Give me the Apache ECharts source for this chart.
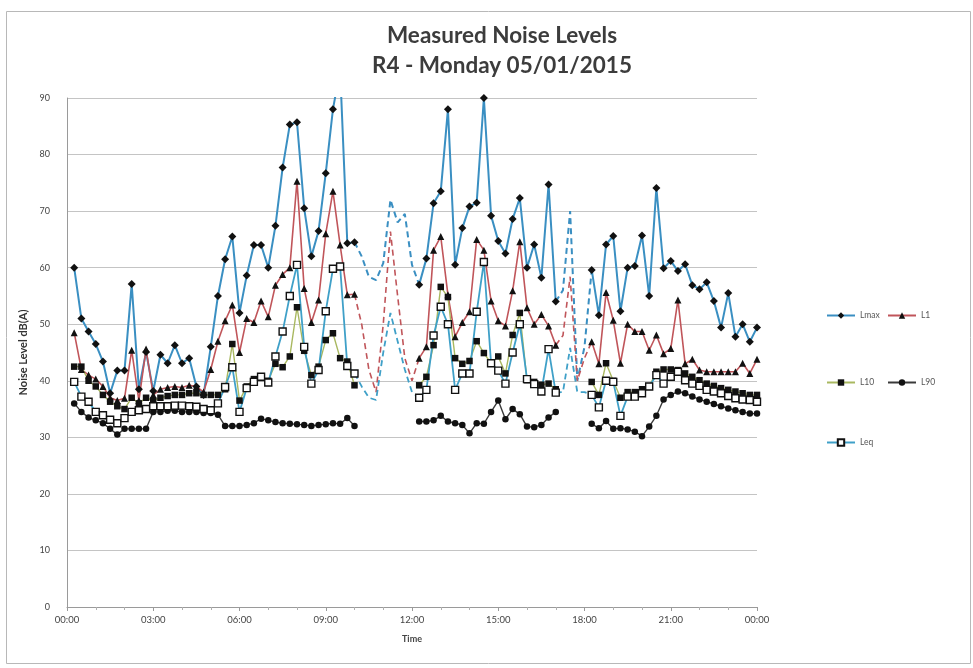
<!DOCTYPE html>
<html><head><meta charset="utf-8">
<script src="https://cdn.jsdelivr.net/npm/echarts@6/dist/echarts.min.js"></script>
<style>html,body{margin:0;padding:0;background:#fff}#c{width:973px;height:668px}</style>
</head><body><div id="c"></div>
<script>
// x tick labels every 3 hours
const tickLabels = ['00:00','03:00','06:00','09:00','12:00','15:00','18:00','21:00','00:00'];
// 15-minute slots, slot 1 = 00:15 ... slot 96 = 24:00
const lmax = [60,51,48.7,46.5,43.4,37.8,41.8,41.8,57.1,38.5,45.1,38.2,44.6,43.1,46.3,43.1,44,39,37.5,46,
  55,61.5,65.5,52,58.6,64,64,60,67.4,77.7,85.3,85.7,70.5,62,66.5,76.7,88,95,64.3,64.5,
  62,58.4,57.8,60.8,72,68,69.5,60.5,57,61.6,71.4,73.5,88,60.5,67,70.8,71.5,90,69.2,64.7,
  62.5,68.6,72.3,60,64.1,58.2,74.7,54,56,70,40,46,59.6,51.6,64.1,65.6,52.3,60,60.3,65.7,
  55,74.1,59.9,61.2,59.4,60.6,56.9,56.2,57.4,54.1,49.4,55.5,47.8,50,46.9,49.4];
const l1 = [48.5,42,41,40.3,39,37,36.5,36.9,45.4,36.5,45.6,37.5,38.5,38.8,39,38.8,39.2,39,38,42,
  47,50.6,53.4,45,51,50.3,54.1,51.3,56.9,58.8,60,75.3,56.3,50.3,54.3,66,73.5,64,55.2,55.3,
  50,42,38,50,66.4,55,44,40,44,46,63.1,65.5,55.2,47.8,50.3,52.2,65,63.1,54.1,50.6,
  49.7,55.9,64.6,52.9,50,51.7,49.7,46.3,48,58.4,40,44,46.9,43,55.6,50.7,43.1,50,48.7,48.7,
  45.4,48.1,44.8,45.7,54.3,43,43.8,41.9,41.6,41.6,41.6,41.6,41.6,43.1,41.3,43.8];
const l10 = [42.5,42.5,40,39,37.5,36.3,35.5,35,37,36,37,36.5,37,37.3,37.5,37.5,37.8,37.8,37.5,37.5,
  37.5,38.5,46.5,36.5,39,40.3,40.5,40,43,42.4,44.3,53,45.3,41,42.5,47.2,48.4,44,43.4,39.2,
  null,null,null,null,null,null,null,null,39.2,40.7,46.3,56.6,54.8,44,43,43.5,47,44.9,43.1,44.3,
  41.3,48.1,52,40.1,39.8,39.3,39.5,38.5,null,null,null,null,39.8,37.5,43.1,40,37,38,38,38.5,
  39,41.6,42,42,41.9,41.3,40.7,40.1,39.5,39.1,38.7,38.4,38.1,37.8,37.5,37.5];
const l90 = [36,34.5,33.5,33,32.5,31.5,30.5,31.5,31.5,31.5,31.5,34.5,34.5,34.7,34.7,34.5,34.5,34.5,34.3,34.3,
  34,32,32,32,32.2,32.5,33.3,33,32.7,32.5,32.4,32.3,32.2,32,32.2,32.3,32.5,32.4,33.4,32,
  null,null,null,null,null,null,null,null,32.8,32.8,33,33.8,32.8,32.5,32.2,30.7,32.5,32.4,34.5,36.5,
  33.2,35,34.1,31.9,31.8,32.2,33.5,34.5,null,null,null,null,32.4,31.6,32.9,31.5,31.6,31.4,31,30.2,
  31.9,33.8,36.7,37.5,38.1,37.8,37.2,36.7,36.3,35.9,35.5,35.1,34.8,34.5,34.2,34.2];
const leq = [39.8,37.2,36.3,34.5,33.9,33.1,32.5,33.4,34.5,34.8,35,35.5,35.5,35.5,35.6,35.6,35.5,35.4,35,34.8,
  36,38.9,42.4,34.5,38.7,39.8,40.7,39.7,44.3,48.7,55,60.5,46,39.5,41.9,52.3,59.8,60.2,42.6,41.3,
  39,37,36.6,45,52,47,42,38,37,38.4,48,53.1,50,38.4,41.3,41.3,52.2,61,43.1,41.8,
  39.5,45,50,40.3,39.4,38.1,45.6,37.9,38,45.8,38,38,37.5,35.3,40,39.8,33.8,37.2,37.2,37.8,
  39,41,39.5,40.7,41.6,40.1,39.5,39.1,38.4,38.1,37.8,37.3,36.9,36.7,36.6,36.3];
// slots drawn as estimated (dashed, no markers)
const estimatedSlots = [[41,48],[69,72]];

const SLOT = 0.25;
const inEst = k => estimatedSlots.some(s => k >= s[0] && k <= s[1]);
const nearEst = k => estimatedSlots.some(s => k >= s[0]-1 && k <= s[1]+1);
const solid = arr => arr.map((v,i) => [(i+1)*SLOT, (inEst(i+1) || v == null) ? '-' : v]);
const dashed = arr => arr.map((v,i) => [(i+1)*SLOT, (nearEst(i+1) && v != null) ? v : '-']);

const defs = [
  {name:'Lmax', data:lmax, color:'#3a8fc2', symbol:'diamond', size:8, fill:'#111', lw:2, est:true},
  {name:'L1', data:l1, color:'#c0555a', symbol:'triangle', size:7, fill:'#111', lw:1.6, est:true},
  {name:'L10', data:l10, color:'#a9b860', symbol:'rect', size:6.5, fill:'#111', lw:1.4, est:false},
  {name:'L90', data:l90, color:'#3a3a3a', symbol:'circle', size:6.5, fill:'#111', lw:1.4, est:false},
  {name:'Leq', data:leq, color:'#3fa0c8', symbol:'rect', size:7, fill:'#fff', lw:1.8, est:true}
];
const series = [];
defs.forEach(d => {
  series.push({
    name:d.name, type:'line', data:solid(d.data), symbol:d.symbol, symbolSize:d.size,
    showSymbol:true, connectNulls:false, clip:true,
    lineStyle:{color:d.color, width:d.lw},
    itemStyle:{color:d.fill, borderColor:'#111', borderWidth:d.fill==='#fff'?1.4:0},
    emphasis:{disabled:true}, animation:false
  });
  if (d.est) series.push({
    name:d.name+' (est.)', type:'line', data:dashed(d.data), showSymbol:false, symbol:'none',
    connectNulls:false, clip:true,
    lineStyle:{color:d.color, width:d.lw, type:[6,4]},
    emphasis:{disabled:true}, animation:false
  });
});
const legendPos = {Lmax:[821,306], L1:[882,306], L10:[821,373], L90:[882,373], Leq:[821,433]};
const legend = defs.map(d => ({
  data:[d.name], left:legendPos[d.name][0], top:legendPos[d.name][1], orient:'horizontal',
  itemWidth:28, itemHeight:8, itemGap:4, selectedMode:false,
  textStyle:{fontSize:8.5, color:'#555', fontFamily:'Lato'}
}));

const chart = echarts.init(document.getElementById('c'), null, {renderer:'canvas'});
chart.setOption({
  animation:false,
  backgroundColor:'#fff',
  title:{
    text:'Measured Noise Levels\nR4 - Monday 05/01/2015',
    left:497, top:16, textAlign:'center',
    textStyle:{fontFamily:'Lato', fontWeight:'bold', fontSize:22.5, lineHeight:30, color:'#3c3c3c'}
  },
  legend: legend,
  grid:{left:67, right:216, top:98, bottom:61, containLabel:false},
  xAxis:{
    type:'value', min:0, max:24, interval:3,
    name:'Time', nameLocation:'middle', nameGap:28,
    nameTextStyle:{fontSize:9, fontWeight:'bold', color:'#444', fontFamily:'Lato'},
    axisLine:{show:true, lineStyle:{color:'#9a9a9a', width:1}},
    axisTick:{show:true, length:4, lineStyle:{color:'#9a9a9a'}},
    minorTick:{show:true, splitNumber:3, length:3, lineStyle:{color:'#b0b0b0'}},
    axisLabel:{formatter:v => tickLabels[Math.round(v/3)], fontSize:9.5, color:'#444', margin:8, fontFamily:'Lato'},
    splitLine:{show:false}
  },
  yAxis:{
    type:'value', min:0, max:90, interval:10,
    name:'Noise Level dB(A)', nameLocation:'middle', nameGap:34, nameRotate:90,
    nameTextStyle:{fontSize:11, fontWeight:'bold', color:'#333', fontFamily:'Lato'},
    axisLine:{show:true, lineStyle:{color:'#9a9a9a', width:1}},
    axisTick:{show:false},
    axisLabel:{fontSize:9, color:'#444', margin:17, fontFamily:'Lato'},
    splitLine:{show:true, lineStyle:{color:'#c4c4c4', width:1}}
  },
  graphic:[
    {type:'rect', left:4, top:9, shape:{width:964, height:652}, style:{fill:'none', stroke:'#b8b8b8', lineWidth:1}, silent:true}
  ],
  series: series
});
</script></body></html>
